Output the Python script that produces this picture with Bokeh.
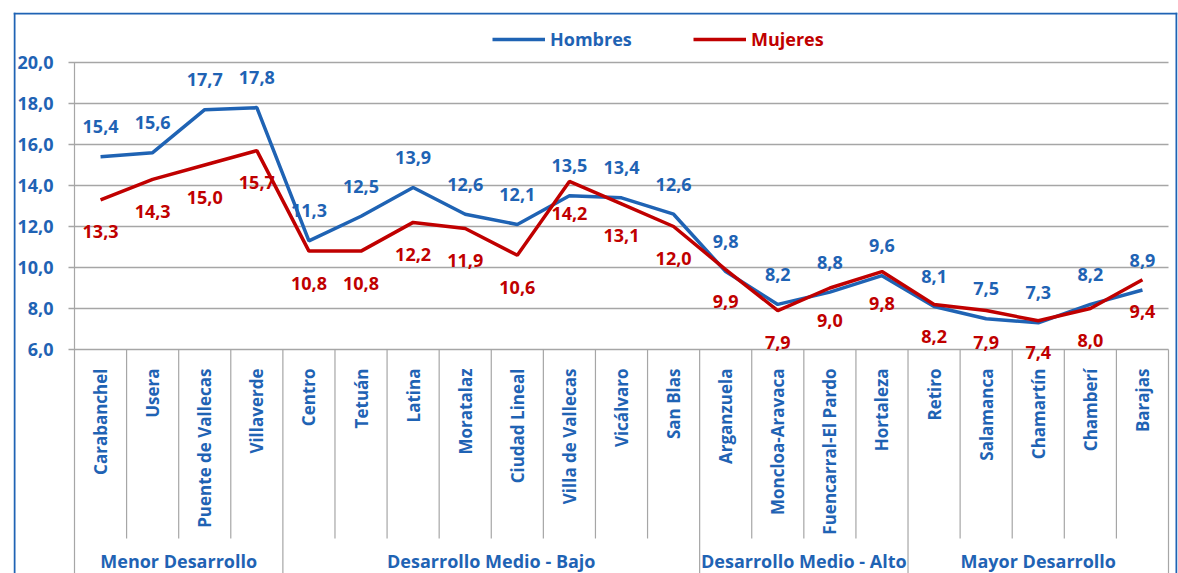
from math import pi
from bokeh.plotting import figure
from bokeh.models import Range1d, Legend, LegendItem, Span
from bokeh.core.properties import value
from bokeh.embed import file_html
from bokeh.resources import INLINE

# ---------------- data ----------------
districts = ["Carabanchel", "Usera", "Puente de Vallecas", "Villaverde",
             "Centro", "Tetuán", "Latina", "Moratalaz", "Ciudad Lineal",
             "Villa de Vallecas", "Vicálvaro", "San Blas",
             "Arganzuela", "Moncloa-Aravaca", "Fuencarral-El Pardo", "Hortaleza",
             "Retiro", "Salamanca", "Chamartín", "Chamberí", "Barajas"]
groups = ["Menor Desarrollo", "Desarrollo Medio - Bajo",
          "Desarrollo Medio - Alto", "Mayor Desarrollo"]
group_sizes = [4, 8, 4, 5]
hombres = [15.4, 15.6, 17.7, 17.8, 11.3, 12.5, 13.9, 12.6, 12.1, 13.5, 13.4,
           12.6, 9.8, 8.2, 8.8, 9.6, 8.1, 7.5, 7.3, 8.2, 8.9]
mujeres = [13.3, 14.3, 15.0, 15.7, 10.8, 10.8, 12.2, 11.9, 10.6, 14.2, 13.1,
           12.0, 9.9, 7.9, 9.0, 9.8, 8.2, 7.9, 7.4, 8.0, 9.4]
y_ticks = [6, 8, 10, 12, 14, 16, 18, 20]
y_tick_labels = ["6,0", "8,0", "10,0", "12,0", "14,0", "16,0", "18,0", "20,0"]
series_names = ["Hombres", "Mujeres"]

# ---------------- style ----------------
BLUE = "#1F63B4"
RED = "#C00000"
GRID = "#A6A6A6"
FONT = value("Open Sans")

PX_X = 1094 / 21.0      # pixels per category
PX_Y = 287 / 14.0       # pixels per y unit

def fmt(v):
    return f"{v:.1f}".replace(".", ",")

n = len(districts)
idx = list(range(n))
y_min, y_max = y_ticks[0], y_ticks[-1]

x_range = Range1d(-0.5 - 61 / PX_X, n - 0.5 + 9 / PX_X)
y_range = Range1d(y_min - 224 / PX_Y, y_max + 50 / PX_Y)

p = figure(width=1178, height=573, x_range=x_range, y_range=y_range,
           x_axis_type=None, y_axis_type=None,
           toolbar_location=None, output_backend="svg",
           min_border_left=13, min_border_right=1,
           min_border_top=12, min_border_bottom=0)
p.outline_line_color = None
p.background_fill_color = "white"
p.border_fill_color = "white"

# chart border (left, right, top; bottom is cut off in the original)
for loc, dim in [(x_range.start + 1 / PX_X, "height"),
                 (x_range.end - 1 / PX_X, "height"),
                 (y_range.end - 1 / PX_Y, "width")]:
    p.add_layout(Span(location=loc, dimension=dim, line_color=BLUE,
                      line_width=2))

y_bottom = y_range.start

# horizontal gridlines (with small outside tick marks)
p.segment(x0=[-0.5 - 6 / PX_X] * len(y_ticks), y0=y_ticks,
          x1=[n - 0.5] * len(y_ticks), y1=y_ticks,
          line_color=GRID, line_width=1.6)

# vertical axis line
p.segment(x0=[-0.5], y0=[y_max], x1=[-0.5], y1=[y_bottom],
          line_color=GRID, line_width=1.2)

# category separators
bounds = []
acc = 0
for s in group_sizes:
    acc += s
    bounds.append(acc - 0.5)
inner = [i + 0.5 for i in range(n - 1) if (i + 0.5) not in bounds]
p.segment(x0=inner, y0=[y_min] * len(inner), x1=inner,
          y1=[y_min - 189 / PX_Y] * len(inner),
          line_color=GRID, line_width=1.2)
p.segment(x0=bounds, y0=[y_min] * len(bounds), x1=bounds,
          y1=[y_bottom] * len(bounds), line_color=GRID, line_width=1.2)

# y tick labels
p.text(x=[-0.5] * len(y_ticks), y=y_ticks, text=y_tick_labels,
       x_offset=-21, text_align="right", text_baseline="middle",
       text_font=FONT, text_font_style="bold", text_font_size="18px",
       text_color=BLUE)

# lines
r_h = p.line(idx, hombres, line_color=BLUE, line_width=3.5)
r_m = p.line(idx, mujeres, line_color=RED, line_width=3.5)

# data labels
p.text(x=idx, y=hombres, text=[fmt(v) for v in hombres], y_offset=-30,
       text_align="center", text_baseline="middle", text_font=FONT,
       text_font_style="bold", text_font_size="18px", text_color=BLUE)
p.text(x=idx, y=mujeres, text=[fmt(v) for v in mujeres], y_offset=32,
       text_align="center", text_baseline="middle", text_font=FONT,
       text_font_style="bold", text_font_size="18px", text_color=RED)

# category labels (vertical)
p.text(x=idx, y=[y_min] * n, text=districts, angle=pi / 2, y_offset=19,
       text_align="right", text_baseline="middle", text_font=FONT,
       text_font_style="bold", text_font_size="17px", text_color=BLUE)

# group labels
centers = []
start = 0
for s in group_sizes:
    centers.append(start + (s - 1) / 2.0)
    start += s
p.text(x=centers, y=[y_min] * len(groups), text=groups, y_offset=211,
       text_align="center", text_baseline="middle", text_font=FONT,
       text_font_style="bold", text_font_size="18px", text_color=BLUE)

# legends
for r, name, col, loc in [(r_h, series_names[0], BLUE, (479, 522)),
                          (r_m, series_names[1], RED, (680, 522))]:
    leg = Legend(items=[LegendItem(label=name, renderers=[r])], location=loc,
                 padding=0, margin=0, spacing=0, glyph_width=53,
                 glyph_height=20, label_height=20, label_standoff=5,
                 border_line_color=None, background_fill_alpha=0,
                 label_text_font="Open Sans", label_text_font_style="bold",
                 label_text_font_size="18px", label_text_color=col)
    p.add_layout(leg)

open("out.html", "w").write(file_html(p, INLINE))
